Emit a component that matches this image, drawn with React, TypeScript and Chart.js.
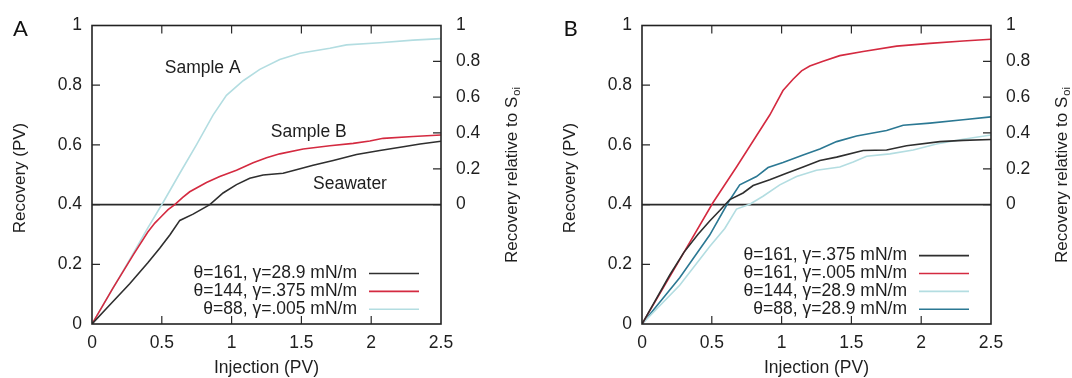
import React, { useEffect, useRef } from "react";
import { Chart, registerables } from "chart.js";

Chart.register(...registerables);

// ---------- axes ----------
const injectionTicks = [0, 0.5, 1, 1.5, 2, 2.5];
const recoveryTicks = [0, 0.2, 0.4, 0.6, 0.8, 1];
const relativeTicks = [0, 0.2, 0.4, 0.6, 0.8, 1];
const soiBaseline = 0.4; // recovery (PV) where "relative to Soi" = 0

// ---------- panel A ----------
const aLabels = ["θ=161, γ=28.9 mN/m", "θ=144, γ=.375 mN/m", "θ=88, γ=.005 mN/m"];
const aColors = ["#2f2f2f", "#d42a40", "#b3dde1"];

const aX1 = [0, 0.1, 0.27, 0.4, 0.485, 0.56, 0.629, 0.724, 0.844, 0.939, 1.035, 1.13, 1.226, 1.369, 1.45, 1.584, 1.728, 1.895, 2.062, 2.23, 2.35, 2.5];
const aY1 = [0, 0.05, 0.135, 0.205, 0.254, 0.3, 0.347, 0.368, 0.4, 0.439, 0.467, 0.488, 0.499, 0.505, 0.515, 0.532, 0.548, 0.568, 0.581, 0.594, 0.603, 0.612];

const aX2 = [0, 0.15, 0.3, 0.4, 0.45, 0.5, 0.545, 0.593, 0.65, 0.7, 0.82, 0.915, 1.035, 1.154, 1.25, 1.345, 1.513, 1.704, 1.871, 1.99, 2.086, 2.3, 2.5];
const aY2 = [0, 0.12, 0.235, 0.308, 0.338, 0.362, 0.383, 0.4, 0.424, 0.443, 0.474, 0.494, 0.515, 0.54, 0.557, 0.57, 0.586, 0.597, 0.605, 0.613, 0.622, 0.628, 0.633];

const aX3 = [0, 0.25, 0.4, 0.509, 0.629, 0.748, 0.867, 0.963, 1.083, 1.202, 1.345, 1.489, 1.704, 1.823, 2.062, 2.3, 2.5];
const aY3 = [0, 0.2, 0.322, 0.407, 0.505, 0.6, 0.7, 0.766, 0.815, 0.853, 0.886, 0.907, 0.924, 0.935, 0.942, 0.951, 0.956];

const aNotes = ["Sample A", "Sample B", "Seawater"];
const aNoteX = [0.793, 1.553, 1.848];
const aNoteY = [0.857, 0.643, 0.467];

// ---------- panel B ----------
const bLabels = ["θ=161, γ=.375 mN/m", "θ=161, γ=.005 mN/m", "θ=144, γ=28.9 mN/m", "θ=88, γ=28.9 mN/m"];
const bColors = ["#2f2f2f", "#d42a40", "#b3dde1", "#2b7893"];

const bX1 = [0, 0.2, 0.3, 0.4, 0.485, 0.557, 0.629, 0.724, 0.796, 0.915, 1.035, 1.154, 1.274, 1.394, 1.584, 1.752, 1.895, 2.134, 2.3, 2.5];
const bY1 = [0, 0.165, 0.24, 0.3, 0.345, 0.38, 0.417, 0.439, 0.464, 0.483, 0.505, 0.526, 0.548, 0.559, 0.581, 0.583, 0.597, 0.611, 0.615, 0.618];

const bX2 = [0, 0.222, 0.509, 0.677, 0.796, 0.915, 1.01, 1.082, 1.143, 1.202, 1.297, 1.417, 1.584, 1.824, 2.062, 2.3, 2.5];
const bY2 = [0, 0.177, 0.407, 0.526, 0.613, 0.7, 0.782, 0.82, 0.848, 0.864, 0.88, 0.899, 0.913, 0.931, 0.94, 0.948, 0.954];

const bX3 = [0, 0.27, 0.485, 0.593, 0.677, 0.772, 0.867, 0.987, 1.107, 1.25, 1.417, 1.513, 1.609, 1.776, 1.943, 2.11, 2.3, 2.5];
const bY3 = [0, 0.13, 0.26, 0.32, 0.385, 0.401, 0.428, 0.466, 0.494, 0.515, 0.526, 0.543, 0.562, 0.57, 0.583, 0.603, 0.619, 0.633];

const bX4 = [0, 0.27, 0.485, 0.617, 0.7, 0.82, 0.903, 1.01, 1.154, 1.274, 1.394, 1.537, 1.752, 1.871, 2.062, 2.3, 2.5];
const bY4 = [0, 0.155, 0.298, 0.407, 0.466, 0.494, 0.524, 0.541, 0.566, 0.586, 0.611, 0.63, 0.648, 0.666, 0.673, 0.684, 0.694];

// ---------- text ----------
const xTitle = "Injection (PV)";
const yTitle = "Recovery (PV)";
const y2Title = "Recovery relative to S";
const y2Sub = "oi";

const FONT = "'Liberation Sans', Arial, sans-serif";
const TEXT = "#1e1e1e";

type Series = { label: string; color: string; x: number[]; y: number[] };
type Panel = {
  letter: string;
  width: number;
  series: Series[];
  notes: { text: string; x: number; y: number }[];
};

const zip = (xs: number[], ys: number[]) => xs.map((x, i) => ({ x, y: ys[i] }));
const fmt = (v: number) => String(+Number(v).toFixed(2));

const panels: Panel[] = [
  {
    letter: "A",
    width: 550,
    series: [
      { label: aLabels[0], color: aColors[0], x: aX1, y: aY1 },
      { label: aLabels[1], color: aColors[1], x: aX2, y: aY2 },
      { label: aLabels[2], color: aColors[2], x: aX3, y: aY3 },
    ],
    notes: aNotes.map((t, i) => ({ text: t, x: aNoteX[i], y: aNoteY[i] })),
  },
  {
    letter: "B",
    width: 522,
    series: [
      { label: bLabels[0], color: bColors[0], x: bX1, y: bY1 },
      { label: bLabels[1], color: bColors[1], x: bX2, y: bY2 },
      { label: bLabels[2], color: bColors[2], x: bX3, y: bY3 },
      { label: bLabels[3], color: bColors[3], x: bX4, y: bY4 },
    ],
    notes: [],
  },
];

function makePlugin(panel: Panel) {
  return {
    id: "gnuplotLook",
    afterDraw(chart: any) {
      const { ctx, chartArea: a, scales } = chart;
      const xs = scales.x;
      const ys = scales.y;
      const y2s = scales.y2;
      ctx.save();
      // inward ticks
      ctx.strokeStyle = "#2a2a2a";
      ctx.lineWidth = 1.2;
      const tl = 8;
      ctx.beginPath();
      injectionTicks.slice(1, -1).forEach((v) => {
        const px = xs.getPixelForValue(v);
        ctx.moveTo(px, a.bottom);
        ctx.lineTo(px, a.bottom - tl);
        ctx.moveTo(px, a.top);
        ctx.lineTo(px, a.top + tl);
      });
      recoveryTicks.slice(1, -1).forEach((v) => {
        const py = ys.getPixelForValue(v);
        ctx.moveTo(a.left, py);
        ctx.lineTo(a.left + tl, py);
      });
      relativeTicks.slice(0, -1).forEach((v) => {
        const py = y2s.getPixelForValue(v);
        ctx.moveTo(a.right, py);
        ctx.lineTo(a.right - tl, py);
      });
      ctx.stroke();
      // frame
      ctx.lineWidth = 1.6;
      ctx.strokeStyle = "#222";
      ctx.strokeRect(a.left, a.top, a.right - a.left, a.bottom - a.top);

      ctx.fillStyle = TEXT;
      ctx.font = `17.5px ${FONT}`;
      // x title
      ctx.textAlign = "center";
      ctx.textBaseline = "middle";
      ctx.fillText(xTitle, (a.left + a.right) / 2, 368);
      // left title
      ctx.font = `17px ${FONT}`;
      ctx.save();
      ctx.translate(20.5, 178);
      ctx.rotate(-Math.PI / 2);
      ctx.fillText(yTitle, 0, 0);
      ctx.restore();
      // right title with subscript
      ctx.save();
      ctx.translate(512, 263);
      ctx.rotate(-Math.PI / 2);
      ctx.textAlign = "left";
      ctx.fillText(y2Title, 0, 0);
      const w = ctx.measureText(y2Title).width;
      ctx.font = `11px ${FONT}`;
      ctx.fillText(y2Sub, w + 1, 5);
      ctx.restore();

      // annotations
      ctx.font = `17.5px ${FONT}`;
      ctx.textAlign = "center";
      panel.notes.forEach((n) => {
        ctx.fillText(n.text, xs.getPixelForValue(n.x), ys.getPixelForValue(n.y));
      });

      // legend (gnuplot style: text right-aligned, sample line to the right)
      const n = panel.series.length;
      panel.series.forEach((s, i) => {
        const yy = 309.3 - (n - 1 - i) * 17.9;
        ctx.textAlign = "right";
        ctx.fillStyle = TEXT;
        ctx.fillText(s.label, a.right - 84, yy);
        ctx.strokeStyle = s.color;
        ctx.lineWidth = 1.6;
        ctx.beginPath();
        ctx.moveTo(a.right - 72, yy);
        ctx.lineTo(a.right - 22, yy);
        ctx.stroke();
      });

      // panel letter
      ctx.font = `22px Lato, ${FONT}`;
      ctx.textAlign = "center";
      ctx.fillStyle = "#111";
      ctx.fillText(panel.letter, 20.5, 28.5);
      ctx.restore();
    },
  };
}

function PanelChart({ panel, left }: { panel: Panel; left: number }) {
  const ref = useRef<HTMLCanvasElement>(null);
  useEffect(() => {
    if (!ref.current) return;
    const datasets: any[] = panel.series.map((s) => ({
      label: s.label,
      data: zip(s.x, s.y),
      borderColor: s.color,
      backgroundColor: s.color,
      borderWidth: 1.6,
      pointRadius: 0,
      tension: 0,
      fill: false,
    }));
    datasets.push({
      label: "Soi",
      data: zip([injectionTicks[0], injectionTicks[injectionTicks.length - 1]], [soiBaseline, soiBaseline]),
      borderColor: "#2a2a2a",
      borderWidth: 1.6,
      pointRadius: 0,
      fill: false,
    });
    const tickFont = { family: FONT, size: 17.5 };
    const chart = new Chart(ref.current, {
      type: "line",
      data: { datasets },
      plugins: [makePlugin(panel)],
      options: {
        animation: false,
        responsive: false,
        devicePixelRatio: 1,
        layout: { padding: { top: 18, left: 0, right: 0, bottom: 0 }, autoPadding: false },
        plugins: { legend: { display: false }, tooltip: { enabled: false } },
        scales: {
          x: {
            type: "linear",
            position: "bottom",
            min: 0,
            max: 2.5,
            grid: { display: false, drawTicks: false },
            border: { display: false },
            afterBuildTicks: (s: any) => {
              s.ticks = injectionTicks.map((v) => ({ value: v }));
            },
            afterFit: (s: any) => {
              s.height = 54;
            },
            ticks: { font: tickFont, color: TEXT, padding: 9, maxRotation: 0, callback: (v: any) => fmt(v) },
          },
          y: {
            type: "linear",
            position: "left",
            min: 0,
            max: 1,
            grid: { display: false, drawTicks: false },
            border: { display: false },
            afterBuildTicks: (s: any) => {
              s.ticks = recoveryTicks.map((v) => ({ value: v }));
            },
            afterFit: (s: any) => {
              s.width = 92;
            },
            ticks: { font: tickFont, color: TEXT, padding: 10, callback: (v: any) => fmt(v) },
          },
          y2: {
            type: "linear",
            position: "right",
            min: -soiBaseline / (1 - soiBaseline),
            max: 1,
            grid: { display: false, drawTicks: false },
            border: { display: false },
            afterBuildTicks: (s: any) => {
              s.ticks = relativeTicks.map((v) => ({ value: v }));
            },
            afterFit: (s: any) => {
              s.width = panel.width - 441;
            },
            ticks: { font: tickFont, color: TEXT, padding: 15, callback: (v: any) => fmt(v) },
          },
        },
      } as any,
    });
    return () => chart.destroy();
  }, [panel]);
  return (
    <canvas
      ref={ref}
      width={panel.width}
      height={378}
      style={{ position: "absolute", left, top: 0, width: panel.width, height: 378 }}
    />
  );
}

export default function App() {
  return (
    <div
      style={{
        position: "absolute",
        left: 0,
        top: 0,
        width: 1072,
        height: 378,
        background: "#fff",
        overflow: "hidden",
      }}
    >
      <PanelChart panel={panels[0]} left={0} />
      <PanelChart panel={panels[1]} left={550} />
    </div>
  );
}
